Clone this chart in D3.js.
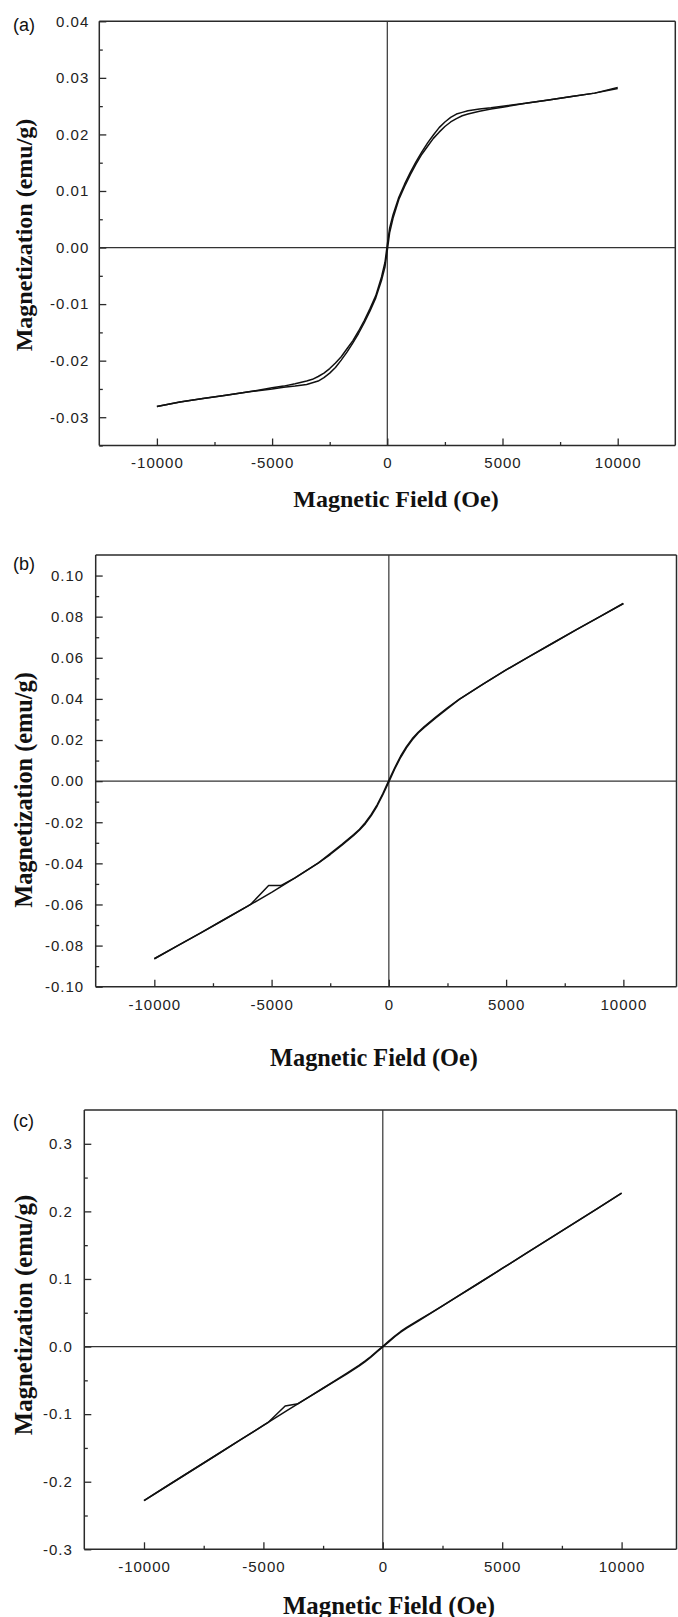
<!DOCTYPE html>
<html>
<head>
<meta charset="utf-8">
<script src="https://cdn.jsdelivr.net/npm/d3@7"></script>
<style>
  html, body { margin: 0; padding: 0; background: #fff; }
  svg { display: block; }
</style>
</head>
<body>
<svg id="chart" width="678" height="1617"></svg>
<script>
// ---------------- DATA ----------------
// Tick values (shared x, per-panel y)
const xMajorTicks = [-10000, -5000, 0, 5000, 10000];
const xMinorTicks = [-7500, -2500, 2500, 7500];

const yMajorTicksA = [-0.03, -0.02, -0.01, 0.00, 0.01, 0.02, 0.03, 0.04];
const yMinorTicksA = [-0.035, -0.025, -0.015, -0.005, 0.005, 0.015, 0.025, 0.035];
const yMajorTicksB = [-0.10, -0.08, -0.06, -0.04, -0.02, 0.00, 0.02, 0.04, 0.06, 0.08, 0.10];
const yMinorTicksB = [-0.09, -0.07, -0.05, -0.03, -0.01, 0.01, 0.03, 0.05, 0.07, 0.09];
const yMajorTicksC = [-0.3, -0.2, -0.1, 0.0, 0.1, 0.2, 0.3];
const yMinorTicksC = [-0.25, -0.15, -0.05, 0.05, 0.15, 0.25];

// Panel (a): field (Oe) and magnetization (emu/g), two loop branches
const fieldA = [-10000,-9000,-8000,-7000,-6000,-5000,-4500,-4000,-3500,-3250,-3000,-2750,-2500,-2250,-2000,-1750,-1500,-1250,-1000,-750,-500,-250,-100,0,100,250,500,750,1000,1250,1500,1750,2000,2250,2500,2750,3000,3250,3500,4000,4500,5000,6000,7000,8000,9000,10000];
const magA_desc = [-0.0281,-0.0273,-0.0267,-0.0261,-0.0255,-0.0248,-0.0245,-0.0241,-0.0236,-0.0233,-0.0228,-0.0222,-0.0214,-0.0204,-0.0193,-0.0179,-0.0165,-0.0148,-0.0129,-0.0108,-0.0085,-0.0052,-0.0026,0.0005,0.0034,0.0058,0.0089,0.0112,0.0133,0.0152,0.0169,0.0185,0.0199,0.0212,0.0222,0.0230,0.0236,0.0239,0.0242,0.0245,0.0247,0.0250,0.0255,0.0261,0.0267,0.0273,0.0283];
const magA_asc = [-0.0281,-0.0273,-0.0267,-0.0261,-0.0255,-0.0250,-0.0247,-0.0245,-0.0242,-0.0239,-0.0236,-0.0230,-0.0222,-0.0212,-0.0199,-0.0185,-0.0169,-0.0152,-0.0133,-0.0112,-0.0089,-0.0058,-0.0034,-0.0005,0.0026,0.0052,0.0085,0.0108,0.0129,0.0148,0.0165,0.0179,0.0193,0.0204,0.0214,0.0222,0.0228,0.0233,0.0236,0.0241,0.0245,0.0248,0.0255,0.0261,0.0267,0.0273,0.0281];

// Panel (b)
const fieldB_desc = [10000,9000,8000,7000,6000,5000,4000,3000,2500,2000,1500,1250,1000,750,500,250,0,-250,-500,-750,-1000,-1250,-1500,-2000,-2500,-3000,-4000,-4610,-5126,-5898,-6000,-7000,-8000,-9000,-10000];
const magB_desc = [0.0864,0.0800,0.0737,0.0672,0.0607,0.0541,0.0471,0.0398,0.0357,0.0312,0.0264,0.0238,0.0207,0.0168,0.0121,0.0065,0.0004,-0.0059,-0.0115,-0.0162,-0.0201,-0.0234,-0.0260,-0.0308,-0.0353,-0.0398,-0.0471,-0.0508,-0.0508,-0.0600,-0.0607,-0.0672,-0.0737,-0.0800,-0.0864];
const fieldB_asc = [-10000,-9000,-8000,-7000,-6000,-5000,-4000,-3000,-2500,-2000,-1500,-1250,-1000,-750,-500,-250,0,250,500,750,1000,1250,1500,2000,2500,3000,4000,5000,6000,7000,8000,9000,10000];
const magB_asc = [-0.0864,-0.0800,-0.0737,-0.0672,-0.0607,-0.0541,-0.0471,-0.0398,-0.0357,-0.0312,-0.0264,-0.0238,-0.0207,-0.0168,-0.0121,-0.0065,-0.0004,0.0059,0.0115,0.0162,0.0201,0.0234,0.0260,0.0308,0.0353,0.0398,0.0471,0.0541,0.0607,0.0672,0.0737,0.0800,0.0864];

// Panel (c)
const fieldC_desc = [10000,9000,8000,7000,6000,5000,4000,3000,2500,2000,1500,1000,750,500,250,0,-250,-500,-750,-1000,-1500,-2000,-2500,-3000,-3550,-4090,-4815,-5000,-6000,-7000,-8000,-9000,-10000];
const magC_desc = [0.2270,0.2046,0.1823,0.1600,0.1377,0.1155,0.0933,0.0713,0.0603,0.0496,0.0390,0.0283,0.0223,0.0155,0.0080,0.0005,-0.0070,-0.0147,-0.0217,-0.0280,-0.0393,-0.0505,-0.0617,-0.0725,-0.0846,-0.0880,-0.1127,-0.1168,-0.1390,-0.1612,-0.1834,-0.2056,-0.2280];
const fieldC_asc = [-10000,-9000,-8000,-7000,-6000,-5000,-4000,-3000,-2500,-2000,-1500,-1000,-750,-500,-250,0,250,500,750,1000,1500,2000,2500,3000,4000,5000,6000,7000,8000,9000,10000];
const magC_asc = [-0.2280,-0.2056,-0.1834,-0.1612,-0.1390,-0.1168,-0.0945,-0.0725,-0.0617,-0.0511,-0.0403,-0.0290,-0.0227,-0.0157,-0.0080,-0.0005,0.0070,0.0145,0.0213,0.0273,0.0380,0.0490,0.0603,0.0713,0.0933,0.1155,0.1377,0.1600,0.1823,0.2046,0.2270];

const panelLabels = ["(a)", "(b)", "(c)"];
const xTitle = "Magnetic Field (Oe)";
const yTitle = "Magnetization (emu/g)";

// ---------------- LAYOUT ----------------
const panels = [
  { label: panelLabels[0], labelY: 30.5,
    left: 99.3, right: 675.3, frameRight: 675.3, top: 21.3, bottom: 445.5,
    yDomain: [-0.035, 0.04], yMajor: yMajorTicksA, yMinor: yMinorTicksA, yDigits: 2,
    yPad: 10, xPad: 11.5,
    xTitleX: 396, xTitleY: 507, xTitleSize: 24,
    yTitleX: 31.5, yTitleY: 235, yTitleSize: 24,
    branches: [[fieldA, magA_desc], [fieldA, magA_asc]] },
  { label: panelLabels[1], labelY: 570,
    left: 95.7, right: 682, frameRight: 676.5, top: 555, bottom: 986.7,
    yDomain: [-0.10, 0.11], yMajor: yMajorTicksB, yMinor: yMinorTicksB, yDigits: 2,
    yPad: 11.5, xPad: 12.5,
    xTitleX: 374, xTitleY: 1066, xTitleSize: 24.3,
    yTitleX: 31.5, yTitleY: 790, yTitleSize: 24.3,
    branches: [[fieldB_desc, magB_desc], [fieldB_asc, magB_asc]] },
  { label: panelLabels[2], labelY: 1126.5,
    left: 84.3, right: 681.3, frameRight: 676.5, top: 1110, bottom: 1549.3,
    yDomain: [-0.3, 0.35], yMajor: yMajorTicksC, yMinor: yMinorTicksC, yDigits: 1,
    yPad: 11.5, xPad: 12,
    xTitleX: 389, xTitleY: 1613.5, xTitleSize: 24.8,
    yTitleX: 32, yTitleY: 1315, yTitleSize: 24.8,
    branches: [[fieldC_desc, magC_desc], [fieldC_asc, magC_asc]] }
];

const svg = d3.select("#chart");
svg.append("rect").attr("width", 678).attr("height", 1617).attr("fill", "#fff");

const axisColor = "#2a2a2a";
const tickFont = "'Liberation Sans', Arial, sans-serif";
const titleFont = "'Liberation Serif', 'Times New Roman', serif";

panels.forEach(p => {
  const x = d3.scaleLinear().domain([-12500, 12500]).range([p.left, p.right]);
  const y = d3.scaleLinear().domain(p.yDomain).range([p.bottom, p.top]);
  const g = svg.append("g");

  // frame
  const frame = g.append("g").attr("stroke", axisColor).attr("stroke-width", 1.5).attr("fill", "none");
  frame.append("line").attr("x1", p.left).attr("x2", p.frameRight).attr("y1", p.top).attr("y2", p.top);
  frame.append("line").attr("x1", p.frameRight).attr("x2", p.frameRight).attr("y1", p.top).attr("y2", p.bottom);
  frame.append("line").attr("x1", p.left).attr("x2", p.frameRight).attr("y1", p.bottom).attr("y2", p.bottom);
  frame.append("line").attr("x1", p.left).attr("x2", p.left).attr("y1", p.top).attr("y2", p.bottom);

  // zero cross lines
  const zl = g.append("g").attr("stroke", "#333").attr("stroke-width", 1.2);
  zl.append("line").attr("x1", x(0)).attr("x2", x(0)).attr("y1", p.top).attr("y2", p.bottom);
  zl.append("line").attr("x1", p.left).attr("x2", p.frameRight).attr("y1", y(0)).attr("y2", y(0));

  // axes
  const styleAxis = sel => {
    sel.select(".domain").remove();
    sel.selectAll(".tick line").attr("stroke", axisColor).attr("stroke-width", 1.3);
    sel.selectAll(".tick text")
      .attr("fill", "#222")
      .style("font-family", tickFont)
      .style("font-size", "15px")
      .style("letter-spacing", "1px");
  };

  g.append("g").attr("transform", `translate(0,${p.bottom})`)
    .call(d3.axisBottom(x).tickValues(xMajorTicks).tickSize(-7).tickPadding(p.xPad).tickFormat(d => String(d)))
    .call(styleAxis);
  g.append("g").attr("transform", `translate(0,${p.bottom})`)
    .call(d3.axisBottom(x).tickValues(xMinorTicks).tickSize(-3.5).tickFormat(""))
    .call(styleAxis);
  g.append("g").attr("transform", `translate(${p.left},0)`)
    .call(d3.axisLeft(y).tickValues(p.yMajor).tickSize(-7).tickPadding(p.yPad).tickFormat(d => d.toFixed(p.yDigits)))
    .call(styleAxis);
  g.append("g").attr("transform", `translate(${p.left},0)`)
    .call(d3.axisLeft(y).tickValues(p.yMinor).tickSize(-3.5).tickFormat(""))
    .call(styleAxis);

  // curves
  const line = d3.line().x(d => x(d[0])).y(d => y(d[1])).curve(d3.curveLinear);
  p.branches.forEach(([hs, ms]) => {
    const pts = hs.map((h, i) => [h, ms[i]]).sort((a, b) => a[0] - b[0]);
    g.append("path").attr("d", line(pts))
      .attr("fill", "none").attr("stroke", "#111").attr("stroke-width", 1.5)
      .attr("stroke-linejoin", "round");
  });

  // panel label
  g.append("text").attr("x", 13).attr("y", p.labelY)
    .style("font-family", tickFont).style("font-size", "18px").attr("fill", "#111")
    .text(p.label);

  // axis titles
  g.append("text").attr("x", p.xTitleX).attr("y", p.xTitleY)
    .attr("text-anchor", "middle")
    .style("font-family", titleFont).style("font-weight", "bold")
    .style("font-size", p.xTitleSize + "px").attr("fill", "#111")
    .text(xTitle);
  g.append("text")
    .attr("transform", `translate(${p.yTitleX},${p.yTitleY}) rotate(-90)`)
    .attr("text-anchor", "middle")
    .style("font-family", titleFont).style("font-weight", "bold")
    .style("font-size", p.yTitleSize + "px").attr("fill", "#111")
    .text(yTitle);
});
</script>
</body>
</html>
